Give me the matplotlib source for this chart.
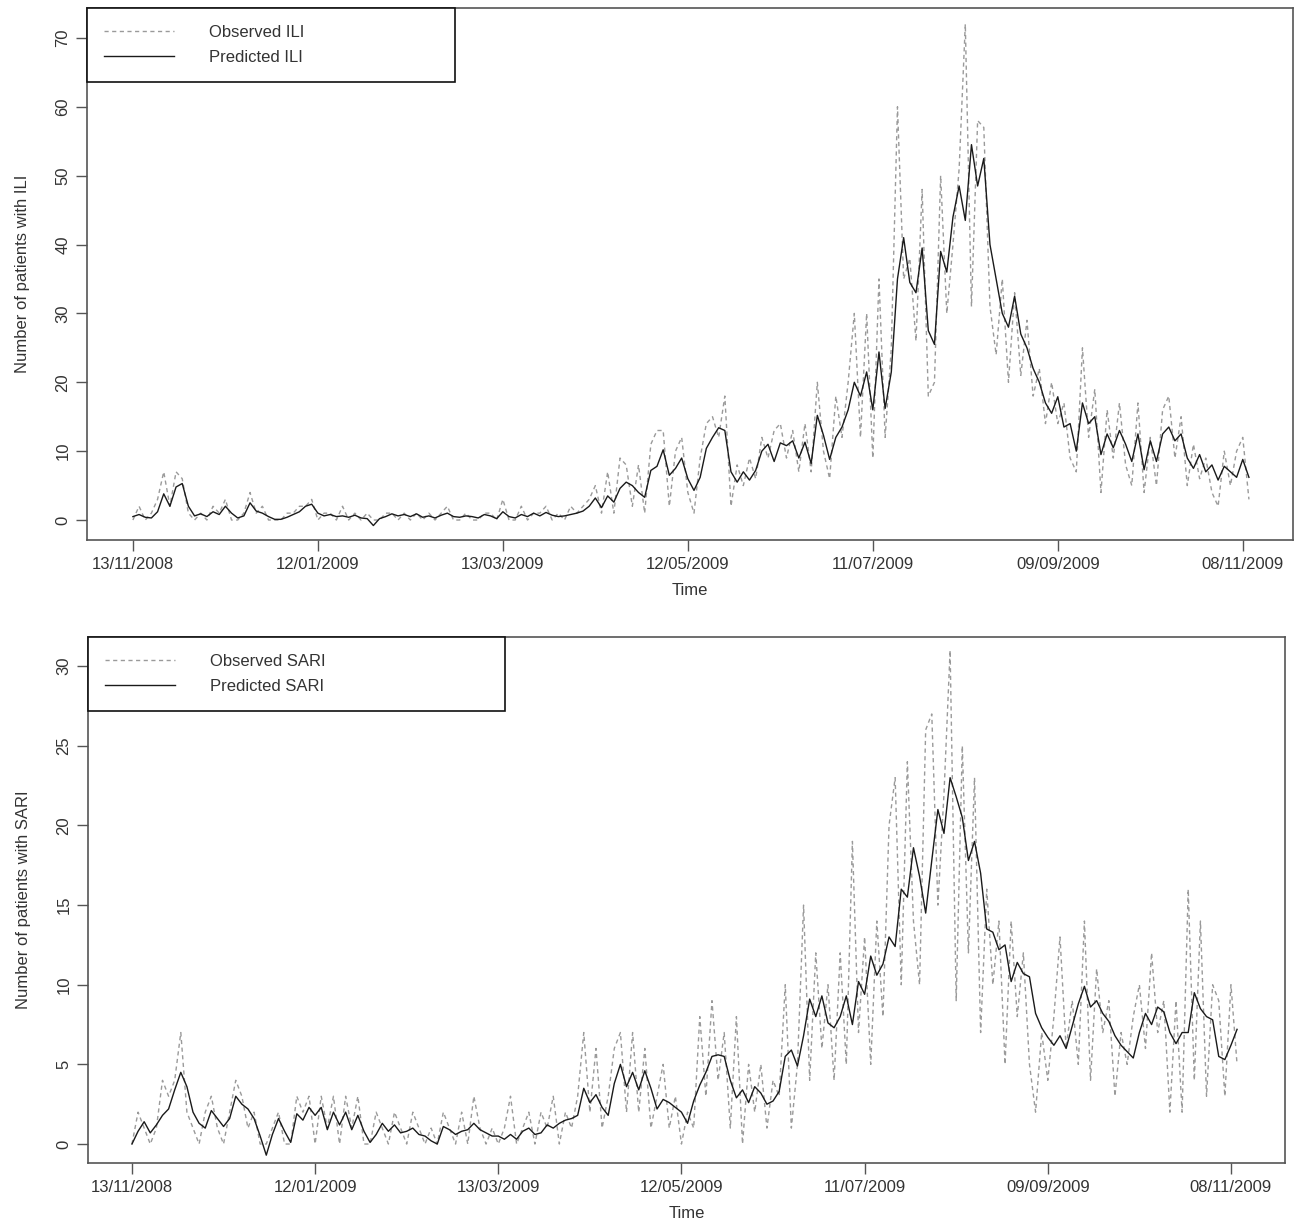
import numpy as np
import pandas as pd
import matplotlib
matplotlib.use("Agg")
import matplotlib.pyplot as plt
import matplotlib.dates as mdates

plt.rcParams['font.family'] = ['Liberation Sans', 'DejaVu Sans']

# series sampled every 2 days from 13/11/2008
start = pd.Timestamp("2008-11-13")
n_pts = 182
dates = pd.date_range(start, periods=n_pts, freq="2D")

ili_pred = [
    0.5, 0.8, 0.4, 0.3, 1.2, 3.8, 2.0, 4.8, 5.3, 2.0,
    0.6, 0.9, 0.5, 1.2, 0.8, 2.0, 1.0, 0.3, 0.6, 2.5,
    1.3, 1.0, 0.5, 0.1, 0.1, 0.4, 0.8, 1.2, 2.0, 2.3,
    1.0, 0.6, 0.8, 0.5, 0.6, 0.4, 0.7, 0.3, 0.2, -0.8,
    0.2, 0.5, 0.9, 0.6, 0.8, 0.5, 0.9, 0.4, 0.6, 0.3,
    0.7, 1.0, 0.5, 0.4, 0.6, 0.5, 0.3, 0.8, 0.6, 0.2,
    1.2, 0.5, 0.3, 0.8, 0.5, 1.0, 0.6, 1.1, 0.7, 0.5,
    0.6, 0.8, 1.0, 1.3, 2.0, 3.2, 1.8, 3.5, 2.6, 4.6,
    5.5, 5.0, 4.0, 3.3, 7.2, 7.8, 10.2, 6.5, 7.5, 9.0,
    6.0, 4.3, 6.2, 10.4, 12.0, 13.4, 13.0, 7.0, 5.5, 7.0,
    5.8, 7.2, 10.0, 11.0, 8.5, 11.2, 10.8, 11.5, 9.0, 11.3,
    8.2, 15.2, 12.3, 8.8, 12.0, 13.5, 16.0, 20.0, 18.0, 21.5,
    16.0, 24.4, 16.2, 21.5, 35.0, 41.0, 34.5, 33.0, 39.5, 27.5,
    25.5, 39.0, 36.0, 44.0, 48.5, 43.5, 54.5, 48.5, 52.5, 40.0,
    35.0, 30.0, 28.0, 32.5, 27.0, 25.0, 22.0, 20.0, 17.0, 15.5,
    17.9, 13.5, 14.0, 10.0, 17.0, 14.0, 15.0, 9.5, 12.5, 10.5,
    13.0, 11.0, 8.5, 12.5, 7.3, 11.5, 8.5, 12.5, 13.5, 11.5,
    12.5, 9.0, 7.5, 9.5, 7.0, 8.0, 5.8, 7.8, 7.0, 6.2,
    8.8, 6.2,
]

ili_obs = [
    0, 2, 0, 1, 3, 7, 2, 7, 6, 1,
    0, 1, 0, 2, 1, 3, 0, 0, 1, 4,
    1, 2, 0, 0, 0, 1, 1, 2, 2, 3,
    0, 1, 1, 0, 2, 0, 1, 0, 1, 0,
    0, 1, 1, 0, 1, 0, 1, 0, 1, 0,
    1, 2, 0, 0, 1, 0, 0, 1, 1, 0,
    3, 0, 0, 2, 0, 1, 1, 2, 0, 1,
    0, 2, 1, 2, 3, 5, 1, 7, 1, 9,
    8, 2, 8, 1, 11, 13, 13, 2, 10, 12,
    4, 1, 9, 14, 15, 12, 18, 2, 8, 5,
    9, 6, 12, 9, 13, 14, 9, 13, 7, 14,
    7, 20, 10, 6, 18, 12, 20, 30, 12, 30,
    9, 35, 12, 25, 60, 35, 38, 26, 48, 18,
    20, 50, 30, 40, 51, 72, 31, 58, 57, 31,
    24, 35, 20, 33, 21, 29, 18, 22, 14, 20,
    14, 17, 9, 7, 25, 12, 19, 4, 16, 9,
    17, 8, 5, 17, 4, 12, 5, 16, 18, 9,
    15, 5, 11, 6, 9, 4, 2, 10, 5, 10,
    12, 3,
]

sari_pred = [
    0.0, 0.8, 1.4, 0.7, 1.2, 1.8, 2.2, 3.4, 4.5, 3.6,
    2.0, 1.3, 1.0, 2.1, 1.6, 1.1, 1.6, 3.0, 2.5, 2.2,
    1.6, 0.5, -0.7, 0.6, 1.6, 0.8, 0.1, 1.9, 1.5, 2.3,
    1.8, 2.3, 0.9, 2.0, 1.2, 2.0, 0.9, 1.8, 0.8, 0.1,
    0.6, 1.3, 0.8, 1.2, 0.7, 0.8, 1.0, 0.6, 0.5, 0.2,
    0.0, 1.1, 0.9, 0.6, 0.8, 0.9, 1.3, 0.9, 0.7, 0.5,
    0.5, 0.3, 0.6, 0.3, 0.8, 1.0, 0.6, 0.7, 1.2, 1.0,
    1.3, 1.5, 1.6, 1.8, 3.5, 2.6, 3.1, 2.3, 1.8, 3.8,
    5.0, 3.6, 4.5, 3.4, 4.6, 3.5, 2.2, 2.8, 2.6, 2.3,
    2.0, 1.3, 2.7, 3.7, 4.5, 5.5, 5.6, 5.5, 4.0, 2.9,
    3.4, 2.6, 3.6, 3.2, 2.5, 2.7, 3.3, 5.5, 5.9, 4.9,
    6.8, 9.1, 8.0, 9.3, 7.6, 7.3, 8.0, 9.3, 7.5, 10.2,
    9.4, 11.8, 10.6, 11.3, 13.0, 12.4, 16.0, 15.5, 18.6, 16.8,
    14.5, 17.8, 21.0, 19.5, 23.0, 21.8, 20.5, 17.8, 19.0, 17.0,
    13.5, 13.3, 12.2, 12.5, 10.2, 11.4, 10.7, 10.5, 8.2, 7.3,
    6.7, 6.2, 6.8, 6.0, 7.4, 8.8, 9.9, 8.6, 9.0, 8.2,
    7.7, 6.8, 6.2, 5.8, 5.4, 7.0, 8.2, 7.5, 8.6, 8.3,
    7.0, 6.3, 7.0, 7.0, 9.5, 8.5, 8.0, 7.8, 5.5, 5.3,
    6.2, 7.2,
]

sari_obs = [
    0, 2, 1, 0, 1, 4, 3, 4, 7, 2,
    1, 0, 2, 3, 1, 0, 2, 4, 3, 1,
    2, 0, 0, 1, 2, 0, 0, 3, 2, 3,
    0, 3, 1, 3, 0, 3, 1, 3, 0, 0,
    2, 1, 0, 2, 1, 0, 2, 1, 0, 1,
    0, 2, 1, 0, 2, 0, 3, 1, 0, 1,
    0, 1, 3, 0, 1, 2, 0, 2, 1, 3,
    0, 2, 1, 3, 7, 2, 6, 1, 3, 6,
    7, 2, 7, 2, 6, 1, 3, 5, 1, 3,
    0, 2, 1, 8, 3, 9, 4, 7, 1, 8,
    0, 5, 2, 5, 1, 4, 3, 10, 1, 5,
    15, 4, 12, 6, 10, 4, 12, 5, 19, 7,
    13, 5, 14, 8, 20, 23, 10, 24, 14, 10,
    26, 27, 15, 22, 31, 9, 25, 12, 23, 7,
    16, 10, 14, 5, 14, 8, 12, 5, 2, 7,
    4, 8, 13, 6, 9, 5, 14, 4, 11, 7,
    9, 3, 7, 5, 8, 10, 6, 12, 7, 9,
    2, 9, 2, 16, 4, 14, 3, 10, 9, 3,
    10, 5,
]

tick_dates = pd.to_datetime(["2008-11-13", "2009-01-12", "2009-03-13", "2009-05-12",
                             "2009-07-11", "2009-09-09", "2009-11-08"])
tick_labels = [d.strftime("%d/%m/%Y") for d in tick_dates]

panels = [
    dict(obs=ili_obs, pred=ili_pred, name="ILI", yticks=range(0, 71, 10),
         rect=[0.0671, 0.5581, 0.9306, 0.4354], ylim=(-2.9, 74.35),
         xlim=(-14.9, 376.3), legw=0.305),
    dict(obs=sari_obs, pred=sari_pred, name="SARI", yticks=range(0, 31, 5),
         rect=[0.0679, 0.0483, 0.9236, 0.4304], ylim=(-1.19, 31.83),
         xlim=(-14.4, 377.7), legw=0.348),
]

fig = plt.figure(figsize=(12.96, 12.22), dpi=100)
grey = "#555555"
txt = "#333333"

for p in panels:
    ax = fig.add_axes(p["rect"])
    ax.plot(dates, p["obs"], color="#9a9a9a", lw=1.0, ls=(0, (3, 2.5)),
            label="Observed " + p["name"])
    ax.plot(dates, p["pred"], color="#1a1a1a", lw=1.0,
            label="Predicted " + p["name"])
    ax.set_xlim(start + pd.Timedelta(days=p["xlim"][0]),
                start + pd.Timedelta(days=p["xlim"][1]))
    ax.set_ylim(*p["ylim"])
    ax.set_xticks(tick_dates)
    ax.set_xticklabels(tick_labels)
    ax.set_yticks(list(p["yticks"]))
    ax.set_yticklabels([str(v) for v in p["yticks"]], rotation=90, va="center")
    ax.tick_params(axis="both", length=8, width=1, color=grey, labelcolor=txt,
                   labelsize=12, pad=4)
    for s in ax.spines.values():
        s.set_color(grey)
        s.set_linewidth(1.2)
    ax.set_xlabel("Time", fontsize=12, color=txt, labelpad=8)
    ax.set_ylabel("Number of patients with " + p["name"], fontsize=12,
                  color=txt, labelpad=18)
    leg = ax.legend(loc="upper left", bbox_to_anchor=(0, 1, p["legw"], 0),
                    mode="expand", borderaxespad=0, fancybox=False,
                    frameon=True, fontsize=12, handlelength=4.2,
                    handletextpad=2.1, borderpad=1.0, labelspacing=0.63,
                    framealpha=1)
    leg.get_frame().set_edgecolor("#111111")
    leg.get_frame().set_linewidth(1.2)
    for t in leg.get_texts():
        t.set_color(txt)

fig.savefig("out.png", dpi=100)
